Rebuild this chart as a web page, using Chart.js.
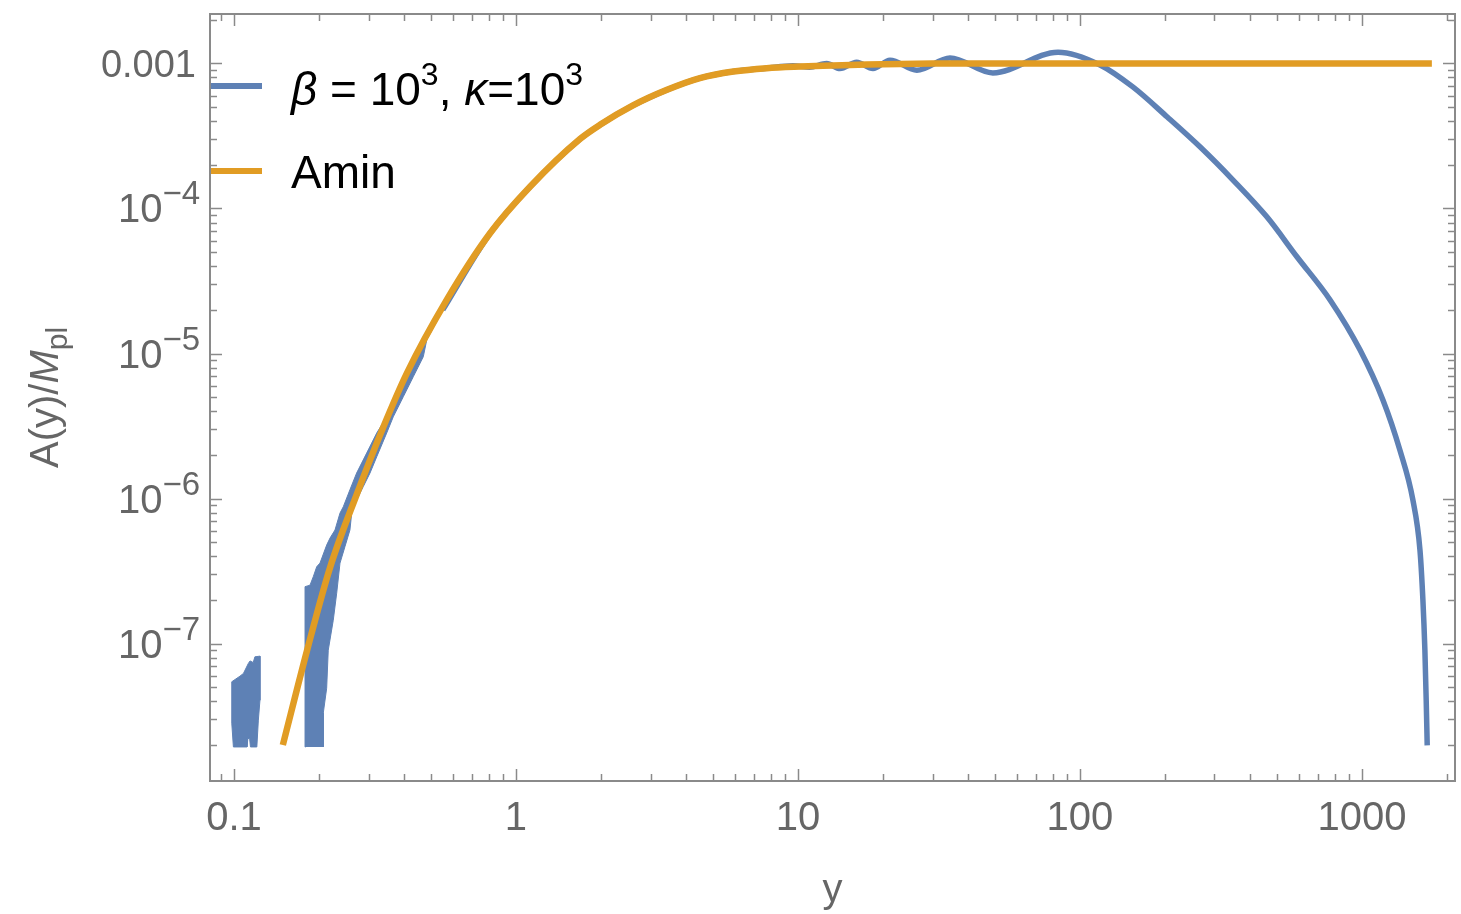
<!DOCTYPE html>
<html>
<head>
<meta charset="utf-8">
<script src="https://cdn.jsdelivr.net/npm/chart.js@4/dist/chart.umd.min.js"></script>
<style>
  html, body { margin: 0; padding: 0; background: #fff; }
  #wrap { width: 1461px; height: 914px; }
</style>
</head>
<body>
<div id="wrap"><canvas id="chart" width="1461" height="914"></canvas></div>
<script>
// --- data ---
const aminX = [0.149, 0.1815, 0.219, 0.273, 0.338, 0.41, 0.568, 0.809, 1.121, 1.686, 1.986, 2.60, 3.432, 4.49, 5.90, 7.74, 10.2, 13.3, 17.5, 23.0, 30, 52, 100, 300, 1000, 1770];
const aminY = [2.0e-8, 8.95e-8, 3.34e-7, 1.08e-6, 3.09e-6, 7.29e-6, 2.34e-5, 6.74e-5, 1.41e-4, 3.01e-4, 3.77e-4, 5.13e-4, 6.57e-4, 7.91e-4, 8.78e-4, 9.27e-4, 9.51e-4, 9.66e-4, 9.81e-4, 9.92e-4, 9.97e-4, 1.0e-3, 1.0e-3, 1.0e-3, 1.0e-3, 1.0e-3];

const betaX = [0.55, 0.809, 1.121, 1.686, 1.986, 2.60, 3.432, 4.49, 5.90, 7.74, 9.6, 11.0, 12.64, 14.09, 16.15, 18.45, 21.2, 26.4, 34.6, 49.1, 83.6, 117.8, 154, 204, 267, 349, 460, 589, 771, 984, 1187, 1363, 1516, 1606, 1645, 1672, 1690, 1704];
const betaY = [2.0e-5, 6.74e-5, 1.41e-4, 3.01e-4, 3.77e-4, 5.13e-4, 6.57e-4, 7.91e-4, 8.78e-4, 9.27e-4, 9.64e-4, 9.41e-4, 9.97e-4, 9.21e-4, 1.019e-3, 9.21e-4, 1.052e-3, 8.97e-4, 1.091e-3, 8.60e-4, 1.195e-3, 9.76e-4, 6.88e-4, 4.27e-4, 2.65e-4, 1.57e-4, 8.75e-5, 4.63e-5, 2.34e-5, 1.06e-5, 4.78e-6, 2.16e-6, 9.77e-7, 4.42e-7, 2.0e-7, 9.0e-8, 4.07e-8, 1.99e-8];

// noisy part of the beta curve at small y, outlined as closed shapes
const noiseAX = [0.0982, 0.0982, 0.105, 0.108, 0.1124, 0.114, 0.117, 0.1186, 0.1236, 0.1236, 0.1220, 0.1205, 0.1144, 0.1136, 0.1120, 0.1112, 0.0995, 0.0982];
const noiseAY = [2.83e-8, 5.46e-8, 5.97e-8, 6.23e-8, 7.30e-8, 7.60e-8, 7.41e-8, 8.11e-8, 8.20e-8, 4.07e-8, 2.97e-8, 1.94e-8, 1.94e-8, 2.22e-8, 2.22e-8, 1.94e-8, 1.94e-8, 2.83e-8];

const noiseBX = [0.1796, 0.1786, 0.1860, 0.1910, 0.1965, 0.2018, 0.2131, 0.2190, 0.2281, 0.2376, 0.2441, 0.2577, 0.2722, 0.2955, 0.3207, 0.3479, 0.3776, 0.4096, 0.4446, 0.4691, 0.5090, 0.5509,
  0.4825, 0.4691, 0.4323, 0.3985, 0.3671, 0.3479, 0.3207, 0.3036, 0.2874, 0.2722, 0.2614, 0.2577, 0.2474, 0.2376, 0.2313, 0.2249, 0.2159, 0.2131, 0.2073, 0.2073];
const noiseBY = [1.94e-8, 2.47e-7, 2.53e-7, 2.89e-7, 3.39e-7, 3.59e-7, 4.78e-7, 5.34e-7, 6.07e-7, 7.94e-7, 8.78e-7, 1.15e-6, 1.50e-6, 2.06e-6, 2.83e-6, 3.66e-6, 4.78e-6, 6.56e-6, 9.02e-6, 1.18e-5, 1.53e-5, 2.0e-5,
  1.24e-5, 9.5e-6, 6.92e-6, 5.04e-6, 3.66e-6, 2.83e-6, 1.94e-6, 1.50e-6, 1.21e-6, 9.77e-7, 7.94e-7, 6.07e-7, 4.66e-7, 3.59e-7, 2.23e-7, 1.45e-7, 9.02e-8, 4.93e-8, 3.32e-8, 1.94e-8];

const xMin = 0.0822, xMax = 2138;
const yMin = 1.13e-8, yMax = 2.19e-3;
const yLabelExps = [-3, -4, -5, -6, -7];

const BLUE = "#5E81B5";
const ORANGE = "#E19C24";
const GREY = "#666666";
const FRAME = "#8a8a8a";
const FONT = '"Liberation Sans", Arial, sans-serif';

const pts = (xs, ys) => xs.map((x, i) => ({ x, y: ys[i] }));

// draw a run of text pieces (for super/subscripts and italics), left aligned
function drawRuns(ctx, x, y, runs) {
  ctx.textAlign = "left";
  runs.forEach((r) => {
    ctx.font = r.font;
    ctx.fillText(r.t, x, y + (r.dy || 0));
    x += ctx.measureText(r.t).width;
  });
}
function runsWidth(ctx, runs) {
  return runs.reduce((w, r) => { ctx.font = r.font; return w + ctx.measureText(r.t).width; }, 0);
}

// --- frame, inward ticks, y labels, titles and legend ---
const framePlugin = {
  id: "frame",
  afterDraw(chart) {
    const { ctx, chartArea: a, scales } = chart;
    const xs = scales.x, ys = scales.y;
    ctx.save();

    // ticks on all four sides, pointing inward
    ctx.strokeStyle = FRAME;
    ctx.lineWidth = 1.5;
    for (let e = -2; e <= 3; e++) {
      for (let m = 1; m <= 9; m++) {
        const v = m * Math.pow(10, e);
        if (v < xMin || v > xMax) continue;
        const px = Math.round(xs.getPixelForValue(v)) + 0.5;
        const len = m === 1 ? 12 : 7;
        ctx.beginPath();
        ctx.moveTo(px, a.bottom); ctx.lineTo(px, a.bottom - len);
        ctx.moveTo(px, a.top); ctx.lineTo(px, a.top + len);
        ctx.stroke();
      }
    }
    for (let e = -9; e <= -2; e++) {
      for (let m = 1; m <= 9; m++) {
        const v = m * Math.pow(10, e);
        if (v < yMin || v > yMax) continue;
        const py = Math.round(ys.getPixelForValue(v)) + 0.5;
        const len = m === 1 ? 12 : 7;
        ctx.beginPath();
        ctx.moveTo(a.left, py); ctx.lineTo(a.left + len, py);
        ctx.moveTo(a.right, py); ctx.lineTo(a.right - len, py);
        ctx.stroke();
      }
    }

    ctx.lineWidth = 2;
    ctx.strokeRect(a.left, a.top, a.right - a.left, a.bottom - a.top);

    // y tick labels
    ctx.fillStyle = GREY;
    ctx.textBaseline = "alphabetic";
    yLabelExps.forEach((e) => {
      const py = ys.getPixelForValue(Math.pow(10, e));
      let runs;
      if (e === -3) {
        runs = [{ t: "0.001", font: `38px ${FONT}` }];
      } else {
        runs = [
          { t: "10", font: `40px ${FONT}` },
          { t: "\u2212" + Math.abs(e), font: `33px ${FONT}`, dy: -18 },
        ];
      }
      const w = runsWidth(ctx, runs);
      drawRuns(ctx, (e === -3 ? 196 : 200) - w, py + 14, runs);
    });

    // axis titles
    ctx.font = `40px ${FONT}`;
    ctx.textAlign = "center";
    ctx.fillText("y", (a.left + a.right) / 2, 902);

    ctx.save();
    ctx.translate(58, (a.top + a.bottom) / 2);
    ctx.rotate(-Math.PI / 2);
    const tRuns = [
      { t: "A(y)/", font: `40px ${FONT}` },
      { t: "M", font: `italic 40px ${FONT}` },
      { t: "pl", font: `30px ${FONT}`, dy: 9 },
    ];
    drawRuns(ctx, -runsWidth(ctx, tRuns) / 2, 0, tRuns);
    ctx.restore();

    // legend
    const ds = chart.data.datasets;
    const legendRows = [
      { ds: ds[1], y: 86, base: 105, runs: [
        { t: "\u03B2", font: `italic 46px ${FONT}` },
        { t: " = 10", font: `46px ${FONT}` },
        { t: "3", font: `32px ${FONT}`, dy: -20 },
        { t: ", ", font: `46px ${FONT}` },
        { t: "\u03BA", font: `italic 46px ${FONT}` },
        { t: "=10", font: `46px ${FONT}` },
        { t: "3", font: `32px ${FONT}`, dy: -20 },
      ] },
      { ds: ds[0], y: 171, base: 188, runs: [{ t: "Amin", font: `46px ${FONT}` }] },
    ];
    legendRows.forEach((row) => {
      ctx.strokeStyle = row.ds.borderColor;
      ctx.lineWidth = 6;
      ctx.beginPath();
      ctx.moveTo(a.left + 1, row.y);
      ctx.lineTo(262, row.y);
      ctx.stroke();
      ctx.fillStyle = "#000";
      drawRuns(ctx, 291, row.base, row.runs);
    });

    ctx.restore();
  },
};

new Chart(document.getElementById("chart"), {
  type: "scatter",
  data: {
    datasets: [
      {
        label: "Amin",
        data: pts(aminX, aminY),
        showLine: true,
        borderColor: ORANGE,
        borderWidth: 6.5,
        pointRadius: 0,
        cubicInterpolationMode: "monotone",
        order: 0,
      },
      {
        label: "\u03B2 = 10\u00B3, \u03BA=10\u00B3",
        data: pts(betaX, betaY),
        showLine: true,
        borderColor: BLUE,
        borderWidth: 5.5,
        pointRadius: 0,
        cubicInterpolationMode: "monotone",
        order: 1,
      },
      {
        label: "noiseA",
        data: pts(noiseAX, noiseAY),
        showLine: true,
        fill: "shape",
        backgroundColor: BLUE,
        borderColor: BLUE,
        borderWidth: 1,
        pointRadius: 0,
        tension: 0,
        order: 2,
      },
      {
        label: "noiseB",
        data: pts(noiseBX, noiseBY),
        showLine: true,
        fill: "shape",
        backgroundColor: BLUE,
        borderColor: BLUE,
        borderWidth: 1,
        pointRadius: 0,
        tension: 0,
        order: 3,
      },
    ],
  },
  options: {
    responsive: false,
    animation: false,
    devicePixelRatio: 1,
    layout: { padding: { left: 0, top: 14, right: 6, bottom: 0 } },
    plugins: { legend: { display: false }, tooltip: { enabled: false } },
    scales: {
      x: {
        type: "logarithmic",
        min: xMin,
        max: xMax,
        grid: { display: false, drawTicks: false, tickLength: 0 },
        border: { display: false },
        afterFit: (s) => { s.height = 133; s.paddingLeft = 0; s.paddingRight = 0; },
        ticks: {
          autoSkip: false,
          maxRotation: 0,
          padding: 14,
          color: GREY,
          font: { size: 40, family: FONT },
          callback: (v) => {
            const l = Math.log10(v);
            if (Math.abs(l - Math.round(l)) > 1e-6) return "";
            return String(Number(v.toPrecision(6)));
          },
        },
      },
      y: {
        type: "logarithmic",
        min: yMin,
        max: yMax,
        grid: { display: false, drawTicks: false, tickLength: 0 },
        border: { display: false },
        ticks: { display: false },
        afterFit: (s) => { s.width = 210; },
      },
    },
  },
  plugins: [framePlugin],
});
</script>
</body>
</html>
